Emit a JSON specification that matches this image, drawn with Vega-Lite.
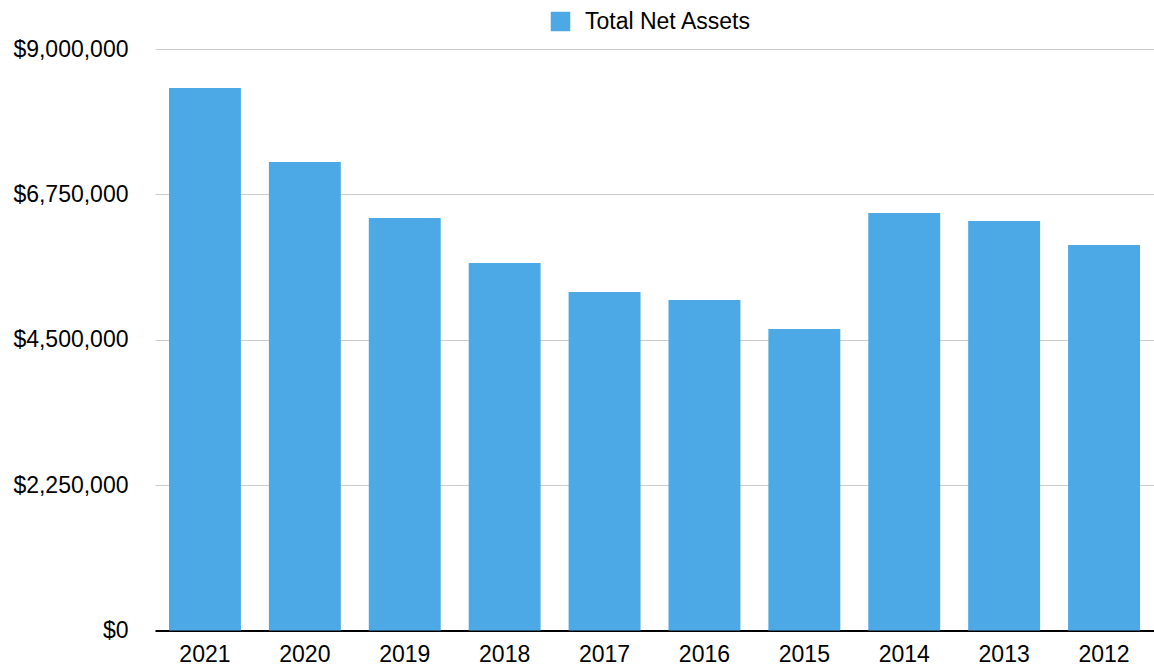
{
  "$schema": "https://vega.github.io/schema/vega-lite/v6.json",
  "autosize": "none",
  "width": 999,
  "height": 581.5,
  "padding": {"left": 155, "top": 49, "right": 0, "bottom": 38.5},
  "background": "white",
  "data": {
    "values": [
      {"year": "2021", "series": "Total Net Assets", "value": 8396000},
      {"year": "2020", "series": "Total Net Assets", "value": 7251000},
      {"year": "2019", "series": "Total Net Assets", "value": 6384000},
      {"year": "2018", "series": "Total Net Assets", "value": 5688000},
      {"year": "2017", "series": "Total Net Assets", "value": 5239000},
      {"year": "2016", "series": "Total Net Assets", "value": 5115000},
      {"year": "2015", "series": "Total Net Assets", "value": 4666000},
      {"year": "2014", "series": "Total Net Assets", "value": 6462000},
      {"year": "2013", "series": "Total Net Assets", "value": 6338000},
      {"year": "2012", "series": "Total Net Assets", "value": 5966000}
    ]
  },
  "mark": {"type": "bar"},
  "encoding": {
    "x": {
      "field": "year",
      "type": "nominal",
      "sort": null,
      "scale": {"paddingInner": 0.28, "paddingOuter": 0.14},
      "axis": {
        "title": null,
        "labelAngle": 0,
        "labelFont": "Liberation Sans",
        "labelFontSize": 23,
        "labelColor": "#000000",
        "labelPadding": 13,
        "ticks": false,
        "domainColor": "#000000",
        "domainWidth": 2,
        "grid": false
      }
    },
    "y": {
      "field": "value",
      "type": "quantitative",
      "scale": {"domain": [0, 9000000], "nice": false},
      "axis": {
        "title": null,
        "values": [0, 2250000, 4500000, 6750000, 9000000],
        "format": "$,.0f",
        "labelFont": "Liberation Sans",
        "labelFontSize": 23,
        "labelColor": "#000000",
        "labelPadding": 27,
        "ticks": false,
        "domain": false,
        "grid": true,
        "gridColor": "#cccccc",
        "gridWidth": 1
      }
    },
    "color": {
      "field": "series",
      "type": "nominal",
      "scale": {"range": ["#4DA9E6"]},
      "legend": {
        "title": null,
        "orient": "none",
        "legendX": 394,
        "legendY": -39,
        "symbolType": "square",
        "symbolSize": 380,
        "symbolStrokeWidth": 0,
        "labelFont": "Liberation Sans",
        "labelFontSize": 23,
        "labelColor": "#000000",
        "labelOffset": 13,
        "labelLimit": 400
      }
    }
  },
  "config": {
    "view": {"stroke": null}
  }
}
